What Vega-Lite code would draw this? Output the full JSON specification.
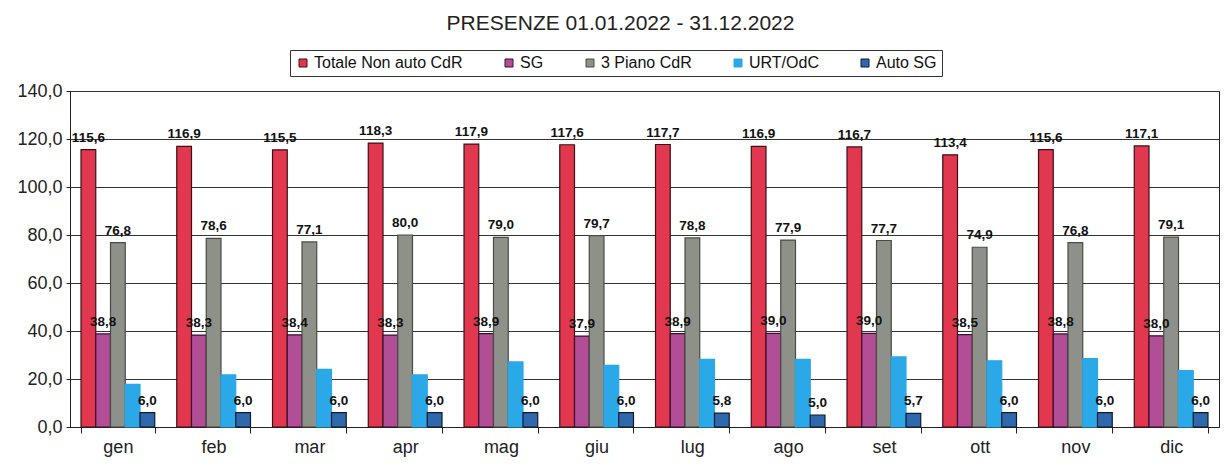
{
  "$schema": "https://vega.github.io/schema/vega-lite/v6.json",
  "width": 1149,
  "height": 336,
  "autosize": {"type": "none"},
  "padding": {"left": 70, "top": 91, "right": 12, "bottom": 41},
  "background": "white",
  "config": {
    "locale": {"number": {"decimal": ",", "thousands": ".", "grouping": [3], "currency": ["€", ""]}},
    "font": "Liberation Sans",
    "view": {"stroke": "#222", "strokeWidth": 1}
  },
  "title": {
    "text": "PRESENZE 01.01.2022 - 31.12.2022",
    "fontSize": 21,
    "fontWeight": "normal",
    "color": "#222",
    "offset": 16,
    "dx": -24,
    "anchor": "middle"
  },
  "data": {
    "values": [
      {"mese": "gen", "serie": "Totale Non auto CdR", "valore": 115.6},
      {"mese": "gen", "serie": "SG", "valore": 38.8},
      {"mese": "gen", "serie": "3 Piano CdR", "valore": 76.8},
      {"mese": "gen", "serie": "URT/OdC", "valore": 17.8},
      {"mese": "gen", "serie": "Auto SG", "valore": 6.0},
      {"mese": "feb", "serie": "Totale Non auto CdR", "valore": 116.9},
      {"mese": "feb", "serie": "SG", "valore": 38.3},
      {"mese": "feb", "serie": "3 Piano CdR", "valore": 78.6},
      {"mese": "feb", "serie": "URT/OdC", "valore": 21.7},
      {"mese": "feb", "serie": "Auto SG", "valore": 6.0},
      {"mese": "mar", "serie": "Totale Non auto CdR", "valore": 115.5},
      {"mese": "mar", "serie": "SG", "valore": 38.4},
      {"mese": "mar", "serie": "3 Piano CdR", "valore": 77.1},
      {"mese": "mar", "serie": "URT/OdC", "valore": 24.0},
      {"mese": "mar", "serie": "Auto SG", "valore": 6.0},
      {"mese": "apr", "serie": "Totale Non auto CdR", "valore": 118.3},
      {"mese": "apr", "serie": "SG", "valore": 38.3},
      {"mese": "apr", "serie": "3 Piano CdR", "valore": 80.0},
      {"mese": "apr", "serie": "URT/OdC", "valore": 21.7},
      {"mese": "apr", "serie": "Auto SG", "valore": 6.0},
      {"mese": "mag", "serie": "Totale Non auto CdR", "valore": 117.9},
      {"mese": "mag", "serie": "SG", "valore": 38.9},
      {"mese": "mag", "serie": "3 Piano CdR", "valore": 79.0},
      {"mese": "mag", "serie": "URT/OdC", "valore": 27.1},
      {"mese": "mag", "serie": "Auto SG", "valore": 6.0},
      {"mese": "giu", "serie": "Totale Non auto CdR", "valore": 117.6},
      {"mese": "giu", "serie": "SG", "valore": 37.9},
      {"mese": "giu", "serie": "3 Piano CdR", "valore": 79.7},
      {"mese": "giu", "serie": "URT/OdC", "valore": 25.7},
      {"mese": "giu", "serie": "Auto SG", "valore": 6.0},
      {"mese": "lug", "serie": "Totale Non auto CdR", "valore": 117.7},
      {"mese": "lug", "serie": "SG", "valore": 38.9},
      {"mese": "lug", "serie": "3 Piano CdR", "valore": 78.8},
      {"mese": "lug", "serie": "URT/OdC", "valore": 28.2},
      {"mese": "lug", "serie": "Auto SG", "valore": 5.8},
      {"mese": "ago", "serie": "Totale Non auto CdR", "valore": 116.9},
      {"mese": "ago", "serie": "SG", "valore": 39.0},
      {"mese": "ago", "serie": "3 Piano CdR", "valore": 77.9},
      {"mese": "ago", "serie": "URT/OdC", "valore": 28.2},
      {"mese": "ago", "serie": "Auto SG", "valore": 5.0},
      {"mese": "set", "serie": "Totale Non auto CdR", "valore": 116.7},
      {"mese": "set", "serie": "SG", "valore": 39.0},
      {"mese": "set", "serie": "3 Piano CdR", "valore": 77.7},
      {"mese": "set", "serie": "URT/OdC", "valore": 29.2},
      {"mese": "set", "serie": "Auto SG", "valore": 5.7},
      {"mese": "ott", "serie": "Totale Non auto CdR", "valore": 113.4},
      {"mese": "ott", "serie": "SG", "valore": 38.5},
      {"mese": "ott", "serie": "3 Piano CdR", "valore": 74.9},
      {"mese": "ott", "serie": "URT/OdC", "valore": 27.6},
      {"mese": "ott", "serie": "Auto SG", "valore": 6.0},
      {"mese": "nov", "serie": "Totale Non auto CdR", "valore": 115.6},
      {"mese": "nov", "serie": "SG", "valore": 38.8},
      {"mese": "nov", "serie": "3 Piano CdR", "valore": 76.8},
      {"mese": "nov", "serie": "URT/OdC", "valore": 28.5},
      {"mese": "nov", "serie": "Auto SG", "valore": 6.0},
      {"mese": "dic", "serie": "Totale Non auto CdR", "valore": 117.1},
      {"mese": "dic", "serie": "SG", "valore": 38.0},
      {"mese": "dic", "serie": "3 Piano CdR", "valore": 79.1},
      {"mese": "dic", "serie": "URT/OdC", "valore": 23.5},
      {"mese": "dic", "serie": "Auto SG", "valore": 6.0}
    ]
  },
  "encoding": {
    "x": {
      "field": "mese",
      "type": "nominal",
      "sort": ["gen", "feb", "mar", "apr", "mag", "giu", "lug", "ago", "set", "ott", "nov", "dic"],
      "scale": {"paddingInner": 0.23, "paddingOuter": 0.115},
      "axis": {
        "title": null,
        "labelAngle": 0,
        "labelFontSize": 18,
        "labelColor": "#222",
        "labelPadding": 5,
        "tickBand": "extent",
        "tickColor": "#222",
        "tickSize": 6,
        "domainColor": "#222",
        "grid": false
      }
    },
    "xOffset": {
      "field": "serie",
      "type": "nominal",
      "sort": ["Totale Non auto CdR", "SG", "3 Piano CdR", "URT/OdC", "Auto SG"],
      "scale": {"paddingInner": 0, "paddingOuter": 0}
    },
    "y": {
      "field": "valore",
      "type": "quantitative",
      "scale": {"domain": [0, 140], "nice": false},
      "axis": {
        "title": null,
        "values": [0, 20, 40, 60, 80, 100, 120, 140],
        "format": ".1f",
        "labelFontSize": 18,
        "labelColor": "#222",
        "gridColor": "#333",
        "gridWidth": 1,
        "gridOpacity": 1,
        "tickColor": "#222",
        "tickSize": 4,
        "domainColor": "#222",
        "labelPadding": 4
      }
    }
  },
  "layer": [
    {
      "mark": {"type": "bar", "strokeWidth": 1.2},
      "encoding": {
        "color": {
          "field": "serie",
          "type": "nominal",
          "sort": ["Totale Non auto CdR", "SG", "3 Piano CdR", "URT/OdC", "Auto SG"],
          "scale": {
            "domain": ["Totale Non auto CdR", "SG", "3 Piano CdR", "URT/OdC", "Auto SG"],
            "range": ["#e2384f", "#b14e95", "#8e918a", "#2aa8e8", "#2f69ad"]
          },
          "legend": {
            "title": null,
            "orient": "none",
            "legendX": 220,
            "legendY": -41,
            "direction": "horizontal",
            "symbolType": "square",
            "symbolSize": 64,
            "symbolStrokeWidth": 1,
            "labelOffset": 3,
            "labelFontSize": 16,
            "labelColor": "#111",
            "columnPadding": 38,
            "padding": 5,
            "strokeColor": "#333",
            "fillColor": "white",
            "labelLimit": 300
          }
        },
        "stroke": {
          "field": "serie",
          "type": "nominal",
          "scale": {
            "domain": ["Totale Non auto CdR", "SG", "3 Piano CdR", "URT/OdC", "Auto SG"],
            "range": ["#3a1015", "#3a1030", "#4a4a44", "#2aa8e8", "#111a2a"]
          },
          "legend": null
        }
      }
    },
    {
      "transform": [{"filter": "datum.serie != 'URT/OdC'"}],
      "mark": {
        "type": "text",
        "baseline": "bottom",
        "dy": -5,
        "fontSize": 13.5,
        "fontWeight": "bold",
        "color": "#111"
      },
      "encoding": {
        "text": {"field": "valore", "type": "quantitative", "format": ".1f"}
      }
    }
  ]
}
